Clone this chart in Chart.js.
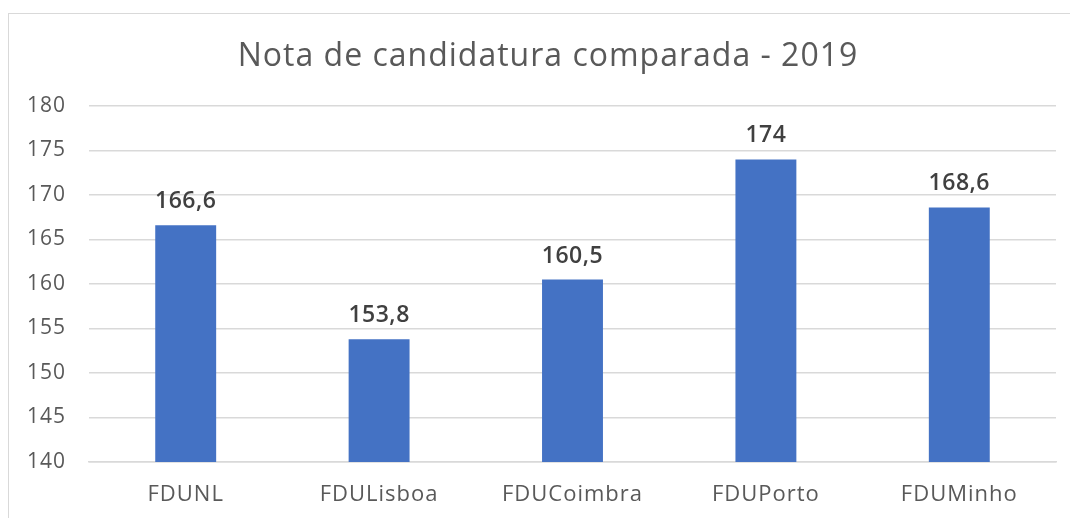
<!DOCTYPE html>
<html>
<head>
<meta charset="utf-8">
<script src="https://cdn.jsdelivr.net/npm/chart.js@4"></script>
<style>
  html, body { margin: 0; padding: 0; background: #fff; overflow: hidden; }
  #frame { position: absolute; left: 8px; top: 13px; width: 1200px; height: 700px; border: 1.5px solid #d9d9d9; box-sizing: border-box; }
  #c { position: absolute; left: 0; top: 0; }
</style>
</head>
<body>
<div id="frame"></div>
<canvas id="c" width="1070" height="518"></canvas>
<script>
const titleText = "Nota de candidatura comparada - 2019";
const categories = ["FDUNL", "FDULisboa", "FDUCoimbra", "FDUPorto", "FDUMinho"];
const values = [166.6, 153.8, 160.5, 174, 168.6];
const yMin = 140, yMax = 180, yStep = 5;

const FONT = "'Open Sans', 'DejaVu Sans', sans-serif";

const spacingPlugin = {
  id: 'spacing',
  beforeDraw(chart) { chart.ctx.letterSpacing = '1px'; }
};

// Title is laid out by Chart.js (transparent) and painted centred on the framed box
const titlePlugin = {
  id: 'centredTitle',
  afterDraw(chart) {
    const tb = chart.titleBlock;
    const ctx = chart.ctx;
    ctx.save();
    ctx.letterSpacing = '1px';
    ctx.font = "normal 32px " + FONT;
    ctx.fillStyle = '#595959';
    ctx.textAlign = 'center';
    ctx.textBaseline = 'middle';
    const y = tb.top + 38 + 32 * 1.2 / 2;
    ctx.fillText(titleText, 548, y);
    ctx.restore();
  }
};

const labelPlugin = {
  id: 'barLabels',
  afterDatasetsDraw(chart) {
    const ctx = chart.ctx;
    const meta = chart.getDatasetMeta(0);
    ctx.save();
    ctx.letterSpacing = '0.5px';
    ctx.font = "600 23px " + FONT;
    ctx.fillStyle = "#404040";
    ctx.textAlign = "center";
    ctx.textBaseline = "alphabetic";
    meta.data.forEach((bar, i) => {
      const txt = String(values[i]).replace('.', ',');
      ctx.fillText(txt, bar.x, bar.y - 17);
    });
    ctx.restore();
  }
};

new Chart(document.getElementById('c'), {
  type: 'bar',
  data: {
    labels: categories,
    datasets: [{
      data: values,
      backgroundColor: '#4472C4',
      borderWidth: 0,
      barPercentage: 0.315,
      categoryPercentage: 1.0
    }]
  },
  options: {
    responsive: false,
    animation: false,
    devicePixelRatio: 1,
    layout: { padding: { left: 0, right: 14, top: 0, bottom: 0 } },
    plugins: {
      legend: { display: false },
      tooltip: { enabled: false },
      title: {
        display: true,
        text: titleText,
        color: 'rgba(0,0,0,0)',
        font: { family: FONT, size: 32, weight: 'normal' },
        padding: { top: 38, bottom: 29.6 }
      }
    },
    scales: {
      x: {
        afterFit(s) { s.height = 56; },
        grid: { display: false, drawTicks: false },
        border: { display: true, color: '#d9d9d9', width: 1.5 },
        ticks: { color: '#595959', font: { family: FONT, size: 22 }, padding: 20 }
      },
      y: {
        min: yMin, max: yMax,
        afterFit(s) { s.width = 89; },
        grid: { color: '#d9d9d9', lineWidth: 1.5, drawTicks: false },
        border: { display: false },
        ticks: { stepSize: yStep, color: '#595959', font: { family: FONT, size: 21 }, padding: 23 }
      }
    }
  },
  plugins: [spacingPlugin, labelPlugin, titlePlugin]
});
</script>
</body>
</html>
